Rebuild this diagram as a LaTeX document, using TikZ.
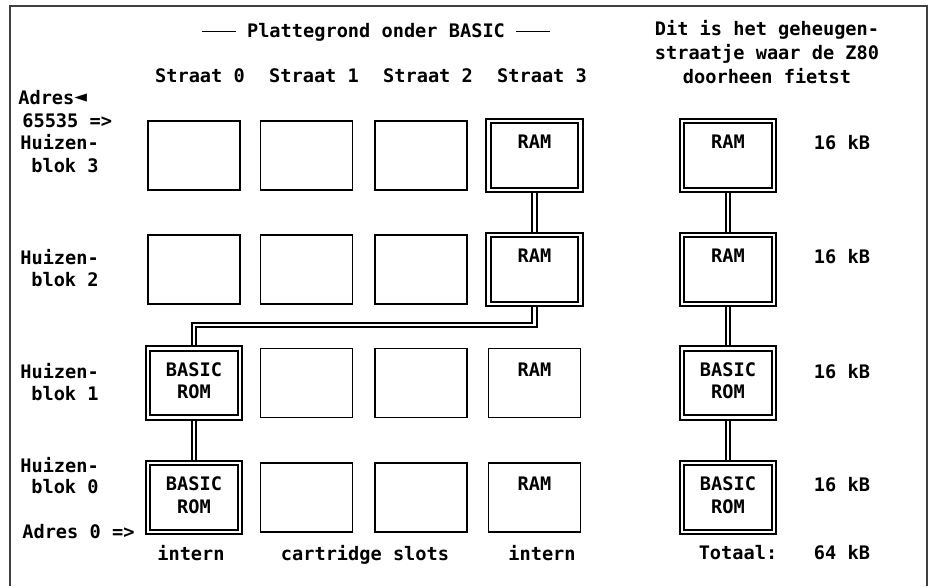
\documentclass[tikz,border=0pt]{standalone}
\usepackage{fontspec}
\setmonofont{DejaVu Sans Mono}
\usetikzlibrary{positioning, backgrounds}
\newcommand{\planfont}{\ttfamily\bfseries\fontsize{10.6}{12.8}\selectfont}

\begin{document}
\begin{tikzpicture}[
  x=0.02cm, y=-0.02cm,
  house/.style={draw, line width=1.1pt, minimum width=1.84cm, minimum height=1.38cm,
                inner sep=0pt, align=center, font=\planfont},
  inuse/.style={house, line width=1pt, double, double distance=1.5pt},
  pipe/.style={draw, line width=1pt, double, double distance=1.5pt},
  lbl/.style={font=\planfont, inner sep=0pt, text height=7.6pt, text depth=0pt},
]
  \useasboundingbox (0,0) rectangle (935,586);
  \draw[black!75, line width=0.9pt] (10,586) -- (10,6) -- (927,6) -- (927,586);

  % koppen
  \node[lbl] (title) at (376,31) {\rule[0.3em]{1.8em}{0.8pt}~Plattegrond onder BASIC~\rule[0.3em]{1.8em}{0.8pt}};
  \node[inner sep=0pt, align=center, font=\ttfamily\bfseries\fontsize{10.6}{13.6}\selectfont] (z80) at (767,52)
    {Dit is het geheugen-\\straatje waar de Z80\\doorheen fietst};
  \node[lbl] (s0) at (200,76) {Straat 0};
  \node[lbl] (s1) at (314,76) {Straat 1};
  \node[lbl] (s2) at (428,76) {Straat 2};
  \node[lbl] (s3) at (542,76) {Straat 3};

  % linker kantlijn
  \node[lbl, anchor=west] (atop) at (18,98) {Adres\raisebox{0.05em}{\fontsize{12}{12}\selectfont ◄}};
  \node[lbl, anchor=west] (atopnr) at (22,121) {65535 =>};
  \node[lbl, anchor=west] (h3) at (20,143) {Huizen-};
  \node[lbl, anchor=west] (k3) at (31,166) {blok 3};
  \node[lbl, anchor=west] (h2) at (20,258) {Huizen-};
  \node[lbl, anchor=west] (k2) at (31,280) {blok 2};
  \node[lbl, anchor=west] (h1) at (20,372) {Huizen-};
  \node[lbl, anchor=west] (k1) at (31,394) {blok 1};
  \node[lbl, anchor=west] (h0) at (20,466) {Huizen-};
  \node[lbl, anchor=west] (k0) at (31,487) {blok 0};
  \node[lbl, anchor=west] (abot) at (22,532) {Adres 0 =>};

  % huizenblokken per straat
  \node[house] (b03) at (194,155.5) {};
  \node[house] (b02) at (194,269.5) {};
  \node[inuse] (b01) at (194,383) {\strut BASIC\\\strut ROM};
  \node[inuse] (b00) at (194,497.5) {\strut BASIC\\\strut ROM};
  \foreach \col/\xx in {1/306.5, 2/421} {
    \node[house] (b\col3) at (\xx,155.5) {};
    \node[house] (b\col2) at (\xx,269.5) {};
    \node[house] (b\col1) at (\xx,383) {};
    \node[house] (b\col0) at (\xx,497.5) {};
  }
  \node[inuse] (b33) at (534.5,155.5) {\strut RAM\\\strut};
  \node[inuse] (b32) at (534.5,269.5) {\strut RAM\\\strut};
  \node[house] (b31) at (534.5,383) {\strut RAM\\\strut};
  \node[house] (b30) at (534.5,497.5) {\strut RAM\\\strut};

  % geheugenstraatje
  \node[inuse] (z3) at (728,155.5) {\strut RAM\\\strut};
  \node[inuse] (z2) at (728,269.5) {\strut RAM\\\strut};
  \node[inuse] (z1) at (728,383) {\strut BASIC\\\strut ROM};
  \node[inuse] (z0) at (728,497.5) {\strut BASIC\\\strut ROM};
  \node[lbl] (kb3) at (842,143) {16 kB};
  \node[lbl] (kb2) at (842,257) {16 kB};
  \node[lbl] (kb1) at (842,372) {16 kB};
  \node[lbl] (kb0) at (842,485) {16 kB};

  % onderschriften
  \node[lbl] (int0) at (191,554) {intern};
  \node[lbl] (cart) at (365,554) {cartridge slots};
  \node[lbl] (int3) at (542,554) {intern};
  \node[lbl] (tot) at (738,553) {Totaal:};
  \node[lbl] (kbt) at (842,553) {64 kB};

  \coordinate (elbow) at (534.5,325);
  \begin{scope}[on background layer]
    \draw[pipe] (b33.south) -- (b32.north);
    \draw[pipe] (b32.south) -- (elbow) -| (b01.north);
    \draw[pipe] (b01.south) -- (b00.north);
    \draw[pipe] (z3.south) -- (z2.north);
    \draw[pipe] (z2.south) -- (z1.north);
    \draw[pipe] (z1.south) -- (z0.north);
  \end{scope}
\end{tikzpicture}
\end{document}
